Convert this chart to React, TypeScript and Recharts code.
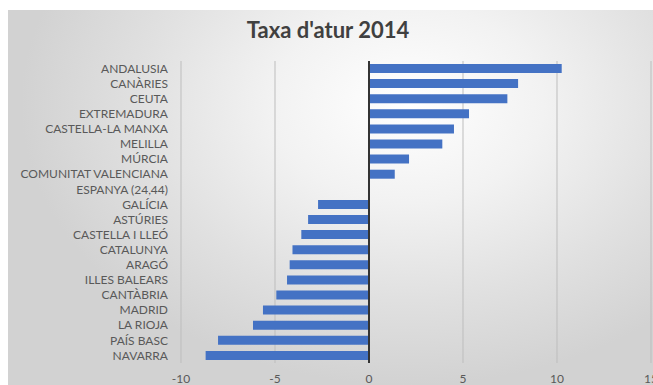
import React from 'react';
import { BarChart, Bar, XAxis, YAxis, CartesianGrid, ReferenceLine } from 'recharts';

// difference from the national rate (24,44), per community
const regions = [
  'ANDALUSIA', 'CANÀRIES', 'CEUTA', 'EXTREMADURA', 'CASTELLA-LA MANXA', 'MELILLA', 'MÚRCIA',
  'COMUNITAT VALENCIANA', 'ESPANYA (24,44)', 'GALÍCIA', 'ASTÚRIES', 'CASTELLA I LLEÓ', 'CATALUNYA',
  'ARAGÓ', 'ILLES BALEARS', 'CANTÀBRIA', 'MADRID', 'LA RIOJA', 'PAÍS BASC', 'NAVARRA',
];
const diffs = [
  10.25, 7.93, 7.36, 5.32, 4.52, 3.9, 2.13, 1.37, 0, -2.71, -3.24, -3.6, -4.07, -4.22, -4.36,
  -4.93, -5.64, -6.17, -8.03, -8.69,
];
const xTicks = [-10, -5, 0, 5, 10, 15];

const data = regions.map((name, i) => ({ name, value: diffs[i] }));

const font = 'Lato, "Open Sans", sans-serif';

// plain text tick so long names don't wrap
const RegionTick = ({ x, y, payload }: any) => (
  <text x={x} y={y} dy="0.35em" textAnchor="end" fill="#595959" fontSize={12} fontFamily={font}>
    {payload.value}
  </text>
);

export default function App() {
  return (
    <div
      style={{
        position: 'absolute',
        left: 8,
        top: 10,
        width: 645,
        height: 375,
        background:
          'radial-gradient(ellipse 60% 75% at 62% 25%, #ffffff 0%, #f2f2f2 35%, #e0e0e0 70%, #d2d2d2 100%)',
        fontFamily: font,
      }}
    >
      <div
        style={{
          position: 'absolute',
          top: 6,
          left: 0,
          width: 640,
          textAlign: 'center',
          fontSize: 22,
          fontWeight: 700,
          color: '#404040',
        }}
      >
        Taxa d'atur 2014
      </div>
      <BarChart
        width={645}
        height={375}
        data={data}
        layout="vertical"
        barSize={9}
        margin={{ top: 51, right: 2, bottom: 0, left: 0 }}
      >
        <CartesianGrid horizontal={false} stroke="#bdbdbd" strokeWidth={1} />
        <XAxis
          type="number"
          domain={[-10, 15]}
          ticks={xTicks}
          axisLine={false}
          tickLine={false}
          height={22}
          tickMargin={5}
          tick={{ fill: '#595959', fontSize: 12, fontFamily: font }}
          interval={0}
        />
        <YAxis
          type="category"
          dataKey="name"
          width={173}
          axisLine={false}
          tickLine={false}
          tickMargin={7}
          interval={0}
          tick={<RegionTick />}
        />
        <ReferenceLine x={0} stroke="#333333" strokeWidth={2} />
        <Bar dataKey="value" fill="#4472C4" isAnimationActive={false} />
      </BarChart>
    </div>
  );
}
